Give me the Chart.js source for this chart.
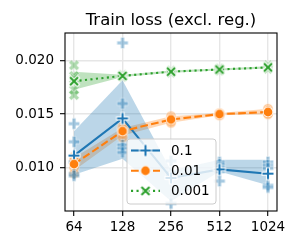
<!DOCTYPE html>
<html><head><meta charset="utf-8">
<script src="https://cdn.jsdelivr.net/npm/chart.js@4/dist/chart.umd.min.js"></script>
<style>html,body{margin:0;padding:0;background:#fff}#wrap{width:300px;height:250px}</style>
</head><body><div id="wrap"><canvas id="c" width="300" height="250"></canvas></div>
<script>
// ---- data ----
const categories = [64, 128, 256, 512, 1024];
const seriesNames = ['0.1', '0.01', '0.001'];
const yTicks = [0.010, 0.015, 0.020];
const titleText = 'Train loss (excl. reg.)';

const mean01  = [0.0111, 0.0146, 0.0090, 0.0098, 0.0094];
const lo01    = [0.0093, 0.0108, 0.0068, 0.0096, 0.0083];
const hi01    = [0.0134, 0.0182, 0.0097, 0.0107, 0.0107];
const seeds01 = [[0.0141,0.0124,0.0105,0.0094,0.0092],[0.0217,0.0160,0.0121,0.0118,0.0114],[0.0106,0.0095,0.0092,0.0090,0.0066],[0.0105,0.0103,0.0100,0.0096,0.0087],[0.0105,0.0102,0.0099,0.0083,0.0081]];

const mean001  = [0.0103, 0.0134, 0.0145, 0.0150, 0.0152];
const lo001    = [0.0097, 0.0130, 0.0142, 0.0149, 0.0150];
const hi001    = [0.0109, 0.0137, 0.0148, 0.0151, 0.0155];
const seeds001 = [[0.0110,0.0106,0.0104,0.0100,0.0094],[0.0138,0.0136,0.0134,0.0132,0.0128],[0.0148,0.0146,0.0145,0.0144,0.0142],[0.0151,0.0150,0.0150,0.0150,0.0149],[0.0155,0.0153,0.0152,0.0151,0.0150]];

const mean0001  = [0.0181, 0.0186, 0.0190, 0.0192, 0.0194];
const lo0001    = [0.0173, 0.0185, 0.0189, 0.0191, 0.0193];
const hi0001    = [0.0190, 0.0187, 0.0191, 0.0193, 0.0195];
const seeds0001 = [[0.0196,0.0186,0.0183,0.0173,0.0168],[0.0187,0.0186,0.0186,0.0185,0.0186],[0.0191,0.0190,0.0190,0.0189,0.0190],[0.0193,0.0192,0.0192,0.0191,0.0192],[0.0196,0.0194,0.0194,0.0193,0.0193]];

// ---- styles ----
const BLUE = '#1f77b4', ORANGE = '#ff7f0e', GREEN = '#2ca02c';
const FONT = "'DejaVu Sans', sans-serif";

function mk(size, fn) { const c = document.createElement('canvas'); c.width = c.height = size; const x = c.getContext('2d'); fn(x, size / 2); return c; }
function plusMark(color) {
  return mk(16, (x, c) => {
    const a = 5.5;
    x.lineCap = 'butt';
    x.strokeStyle = '#fff'; x.lineWidth = 4.2;
    x.beginPath(); x.moveTo(c - a - 1, c); x.lineTo(c + a + 1, c); x.moveTo(c, c - a - 1); x.lineTo(c, c + a + 1); x.stroke();
    x.strokeStyle = color; x.lineWidth = 2.1;
    x.beginPath(); x.moveTo(c - a, c); x.lineTo(c + a, c); x.moveTo(c, c - a); x.lineTo(c, c + a); x.stroke();
  });
}
function xMark(color) {
  return mk(16, (x, c) => {
    const a = 4;
    x.lineCap = 'butt';
    x.strokeStyle = '#fff'; x.lineWidth = 4.2;
    x.beginPath(); x.moveTo(c - a - 0.8, c - a - 0.8); x.lineTo(c + a + 0.8, c + a + 0.8); x.moveTo(c - a - 0.8, c + a + 0.8); x.lineTo(c + a + 0.8, c - a - 0.8); x.stroke();
    x.strokeStyle = color; x.lineWidth = 2.1;
    x.beginPath(); x.moveTo(c - a, c - a); x.lineTo(c + a, c + a); x.moveTo(c - a, c + a); x.lineTo(c + a, c - a); x.stroke();
  });
}
function dotMark(color) {
  return mk(14, (x, c) => {
    x.beginPath(); x.arc(c, c, 5.2, 0, Math.PI * 2); x.fillStyle = '#fff'; x.fill();
    x.beginPath(); x.arc(c, c, 4.4, 0, Math.PI * 2); x.fillStyle = color; x.fill();
  });
}
function filledPlus(fill, rot) {
  return mk(16, (x, c) => {
    const s = 5.6, w = s / 3;
    x.translate(c, c); x.rotate(rot);
    x.beginPath();
    const p = [[-w,-s],[w,-s],[w,-w],[s,-w],[s,w],[w,w],[w,s],[-w,s],[-w,w],[-s,w],[-s,-w],[-w,-w]];
    p.forEach((q, i) => i ? x.lineTo(q[0], q[1]) : x.moveTo(q[0], q[1]));
    x.closePath();
    x.fillStyle = fill; x.fill();
    x.strokeStyle = 'rgba(255,255,255,0.6)'; x.lineWidth = 0.7; x.stroke();
  });
}
function seedDot(fill) {
  return mk(14, (x, c) => {
    x.beginPath(); x.arc(c, c, 5.2, 0, Math.PI * 2); x.fillStyle = fill; x.fill();
    x.strokeStyle = 'rgba(255,255,255,0.6)'; x.lineWidth = 0.7; x.stroke();
  });
}

const M_PLUS = plusMark(BLUE), M_DOT = dotMark(ORANGE), M_X = xMark(GREEN);
const S_PLUS = filledPlus('rgba(31,119,180,0.4)', 0);
const S_DOT = seedDot('rgba(255,127,14,0.4)');
const S_X = filledPlus('rgba(44,160,44,0.38)', Math.PI / 4);

const pts = arr => categories.map((c, i) => ({ x: c, y: arr[i] }));
const seedPts = s => categories.flatMap((c, i) => s[i].map(v => ({ x: c, y: v })));

function band(lo, hi, rgba) {
  return [
    { data: pts(lo), borderWidth: 0, borderColor: 'rgba(0,0,0,0)', pointRadius: 0, fill: false, order: 30 },
    { data: pts(hi), borderWidth: 0, borderColor: 'rgba(0,0,0,0)', pointRadius: 0, fill: '-1', backgroundColor: rgba, order: 30 }
  ];
}
function seeds(s, style) {
  return { data: seedPts(s), showLine: false, pointStyle: style, pointRadius: 5, order: 20 };
}
function line(m, color, dash, style) {
  return { data: pts(m), borderColor: color, borderWidth: 2.1, borderDash: dash, pointStyle: style, pointRadius: 5, fill: false, order: 10, tension: 0 };
}

const datasets = [
  ...band(lo01, hi01, 'rgba(31,119,180,0.3)'),
  ...band(lo001, hi001, 'rgba(255,127,14,0.3)'),
  ...band(lo0001, hi0001, 'rgba(44,160,44,0.3)'),
  seeds(seeds01, S_PLUS), seeds(seeds001, S_DOT), seeds(seeds0001, S_X),
  line(mean0001, GREEN, [2.1, 3.4], M_X),
  line(mean001, ORANGE, [7.7, 3.3], M_DOT),
  line(mean01, BLUE, [], M_PLUS)
];

const legendItems = [
  { label: seriesNames[0], color: BLUE, dash: [], mark: M_PLUS },
  { label: seriesNames[1], color: ORANGE, dash: [7.7, 3.3], mark: M_DOT },
  { label: seriesNames[2], color: GREEN, dash: [2.1, 3.4], mark: M_X }
];

const deco = {
  id: 'deco',
  afterDatasetsDraw(chart) {
    const { ctx, chartArea: a } = chart;
    ctx.save();
    ctx.strokeStyle = '#000'; ctx.lineWidth = 1.1;
    ctx.strokeRect(a.left, a.top, a.right - a.left, a.bottom - a.top);
    ctx.restore();
  },
  afterDraw(chart) {
    const { ctx, chartArea: a } = chart;
    ctx.save();
    // title
    ctx.fillStyle = '#000'; ctx.font = '16.5px ' + FONT; ctx.textAlign = 'center'; ctx.textBaseline = 'middle';
    ctx.fillText(titleText, (a.left + a.right) / 2, 21);
    // legend
    const bx = 127, by = 139, bw = 89, bh = 65, r = 3;
    ctx.beginPath();
    ctx.moveTo(bx + r, by); ctx.arcTo(bx + bw, by, bx + bw, by + bh, r); ctx.arcTo(bx + bw, by + bh, bx, by + bh, r);
    ctx.arcTo(bx, by + bh, bx, by, r); ctx.arcTo(bx, by, bx + bw, by, r); ctx.closePath();
    ctx.fillStyle = 'rgba(255,255,255,0.8)'; ctx.fill();
    ctx.strokeStyle = '#cccccc'; ctx.lineWidth = 1; ctx.stroke();
    legendItems.forEach((it, i) => {
      const y = 150.5 + i * 20.2;
      ctx.strokeStyle = it.color; ctx.lineWidth = 2.1; ctx.setLineDash(it.dash);
      ctx.beginPath(); ctx.moveTo(131, y); ctx.lineTo(160, y); ctx.stroke();
      ctx.setLineDash([]);
      ctx.drawImage(it.mark, 145.5 - it.mark.width / 2, y - it.mark.height / 2);
      ctx.fillStyle = '#000'; ctx.font = '13.5px ' + FONT; ctx.textAlign = 'left'; ctx.textBaseline = 'middle';
      ctx.fillText(it.label, 171, y + 0.5);
    });
    ctx.restore();
  }
};

new Chart(document.getElementById('c'), {
  type: 'line',
  data: { datasets },
  options: {
    responsive: false, animation: false, devicePixelRatio: 1,
    layout: { padding: { left: 0, right: 23, top: 33, bottom: 0 } },
    plugins: { legend: { display: false }, tooltip: { enabled: false }, title: { display: false } },
    scales: {
      x: {
        type: 'logarithmic', min: 56.25, max: 1165,
        afterBuildTicks: s => { s.ticks = categories.map(v => ({ value: v })); },
        afterFit: s => { s.height = 39; },
        ticks: { callback: v => String(v), color: '#000', font: { family: FONT, size: 13.5 }, padding: 3, maxRotation: 0, autoSkip: false },
        grid: { color: '#e6e6e6', lineWidth: 1.4, tickColor: '#000', tickLength: 5, tickWidth: 1.1 },
        border: { display: false }
      },
      y: {
        type: 'linear', min: 0.005889, max: 0.022634,
        afterBuildTicks: s => { s.ticks = yTicks.map(v => ({ value: v })); },
        afterFit: s => { s.width = 65; },
        ticks: { callback: v => v.toFixed(3), color: '#000', font: { family: FONT, size: 13.5 }, padding: 6 },
        grid: { color: '#e6e6e6', lineWidth: 1.4, tickColor: '#000', tickLength: 5, tickWidth: 1.1 },
        border: { display: false }
      }
    }
  },
  plugins: [deco]
});
</script></body></html>
